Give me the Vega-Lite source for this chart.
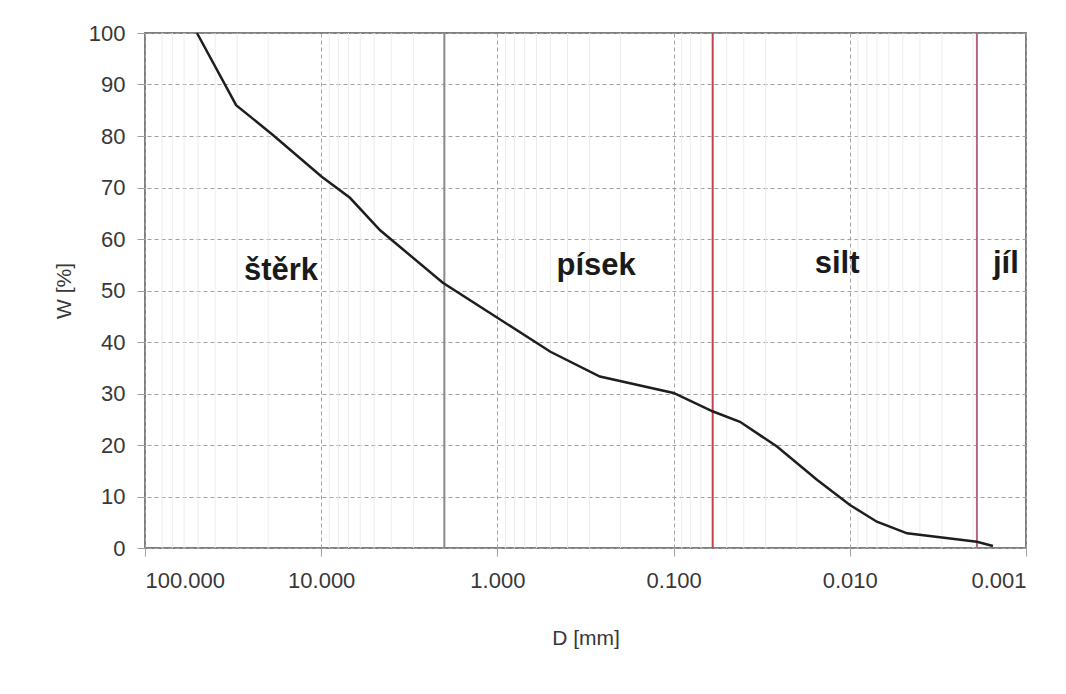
{
  "$schema": "https://vega.github.io/schema/vega-lite/v6.json",
  "width": 881,
  "height": 515,
  "autosize": {"type": "none"},
  "padding": {"left": 145, "top": 33, "right": 40, "bottom": 146},
  "background": "#ffffff",
  "config": {
    "font": "Liberation Sans",
    "view": {"stroke": "#7f7f7f", "strokeWidth": 2},
    "axis": {
      "labelFont": "Liberation Sans",
      "titleFont": "Liberation Sans",
      "labelColor": "#383838",
      "titleColor": "#383838",
      "labelFontSize": 22,
      "titleFontSize": 21,
      "titleFontWeight": "normal",
      "domain": false,
      "gridColor": "#a0a0a0",
      "gridDash": [4, 3],
      "gridWidth": 1,
      "tickColor": "#a0a0a0",
      "tickWidth": 1
    }
  },
  "datasets": {
    "curve": [
      {"D": 50.7, "W": 100},
      {"D": 30.4, "W": 86},
      {"D": 18.8, "W": 80.2},
      {"D": 9.93, "W": 72.1},
      {"D": 6.87, "W": 68},
      {"D": 4.63, "W": 61.7},
      {"D": 2.04, "W": 51.5},
      {"D": 1.0, "W": 44.7},
      {"D": 0.5, "W": 38.1},
      {"D": 0.262, "W": 33.3},
      {"D": 0.1, "W": 30.1},
      {"D": 0.0597, "W": 26.5},
      {"D": 0.042, "W": 24.5},
      {"D": 0.0259, "W": 19.7},
      {"D": 0.0153, "W": 13.2},
      {"D": 0.00998, "W": 8.35},
      {"D": 0.00702, "W": 5.1},
      {"D": 0.00473, "W": 2.85},
      {"D": 0.0019, "W": 1.2},
      {"D": 0.00154, "W": 0.4}
    ],
    "minor": [
      {"D": 80}, {"D": 70}, {"D": 60}, {"D": 50}, {"D": 40}, {"D": 30}, {"D": 20},
      {"D": 9}, {"D": 8}, {"D": 7}, {"D": 6}, {"D": 5}, {"D": 4}, {"D": 3}, {"D": 2},
      {"D": 0.9}, {"D": 0.8}, {"D": 0.7}, {"D": 0.6}, {"D": 0.5}, {"D": 0.4}, {"D": 0.3}, {"D": 0.2},
      {"D": 0.09}, {"D": 0.08}, {"D": 0.07}, {"D": 0.06}, {"D": 0.05}, {"D": 0.04}, {"D": 0.03}, {"D": 0.02},
      {"D": 0.009}, {"D": 0.008}, {"D": 0.007}, {"D": 0.006}, {"D": 0.005}, {"D": 0.004}, {"D": 0.003}, {"D": 0.002}
    ],
    "bounds": [
      {"D": 2, "color": "#8a8a8a"},
      {"D": 0.06, "color": "#c8404f"},
      {"D": 0.0019, "color": "#b36580"}
    ],
    "labels": [
      {"D": 16.9, "W": 52.0, "text": "štěrk"},
      {"D": 0.275, "W": 53.0, "text": "písek"},
      {"D": 0.0118, "W": 53.4, "text": "silt"},
      {"D": 0.0013, "W": 53.4, "text": "jíl"}
    ]
  },
  "layer": [
    {
      "data": {"name": "minor"},
      "mark": {"type": "rule", "color": "#ececec", "strokeWidth": 1},
      "encoding": {
        "x": {
          "field": "D",
          "type": "quantitative",
          "scale": {"type": "log", "domain": [0.001, 100], "reverse": true, "nice": false},
          "axis": {
            "title": "D [mm]",
            "values": [100, 10, 1, 0.1, 0.01, 0.001],
            "format": ".3f",
            "tickSize": 8,
            "labelPadding": 14,
            "titlePadding": 36,
            "grid": true
          }
        }
      }
    },
    {
      "data": {"name": "bounds"},
      "mark": {"type": "rule", "strokeWidth": 2},
      "encoding": {
        "x": {"field": "D", "type": "quantitative"},
        "color": {"field": "color", "type": "nominal", "scale": null}
      }
    },
    {
      "data": {"name": "curve"},
      "mark": {"type": "line", "color": "#1e1e1e", "strokeWidth": 2.5},
      "encoding": {
        "x": {"field": "D", "type": "quantitative"},
        "y": {
          "field": "W",
          "type": "quantitative",
          "scale": {"domain": [0, 100], "nice": false},
          "axis": {
            "title": "W [%]",
            "values": [0, 10, 20, 30, 40, 50, 60, 70, 80, 90, 100],
            "tickSize": 8,
            "labelPadding": 12,
            "titlePadding": 14,
            "grid": true
          }
        }
      }
    },
    {
      "data": {"name": "labels"},
      "mark": {"type": "text", "font": "Liberation Sans", "fontWeight": "bold", "fontSize": 31, "color": "#1a1a1a", "align": "center", "baseline": "alphabetic"},
      "encoding": {
        "x": {"field": "D", "type": "quantitative"},
        "y": {"field": "W", "type": "quantitative"},
        "text": {"field": "text"}
      }
    }
  ]
}
